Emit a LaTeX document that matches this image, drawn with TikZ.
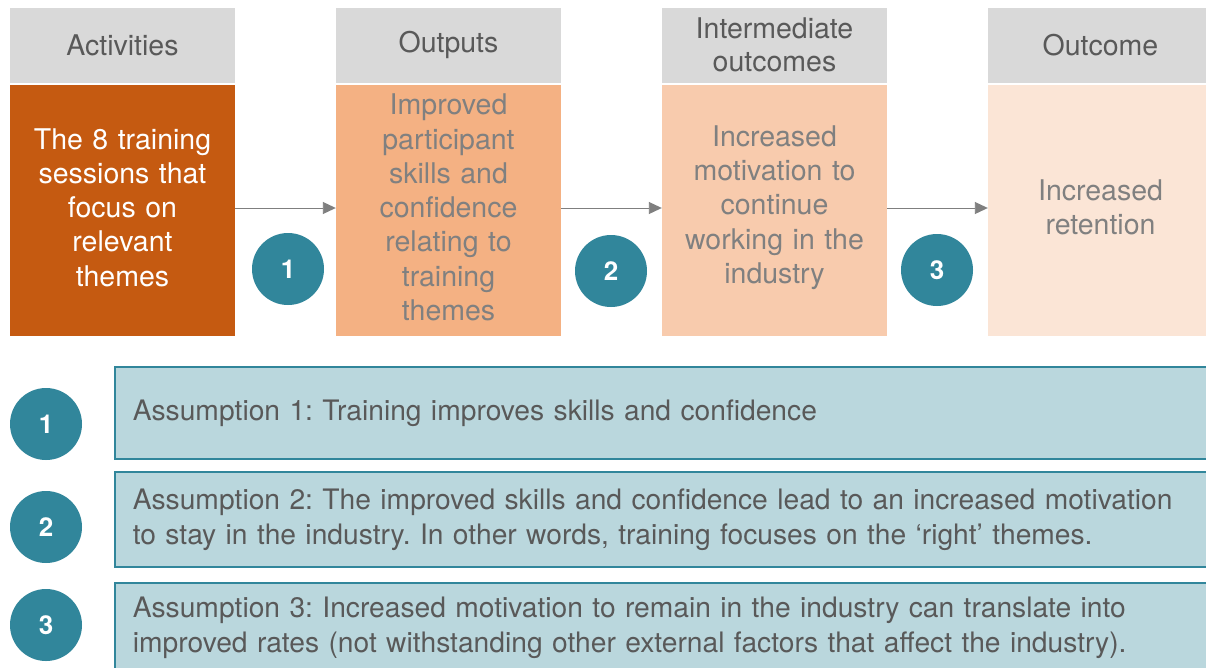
\documentclass[tikz,border=0pt]{standalone}
\usepackage{fontspec}
\setmainfont{TeX Gyre Heros}
\usetikzlibrary{arrows.meta,positioning}
\frenchspacing

\definecolor{hdrgray}{HTML}{D9D9D9}
\definecolor{txtgray}{HTML}{595959}
\definecolor{bodygray}{HTML}{808080}
\definecolor{actfill}{HTML}{C55A11}
\definecolor{outfill}{HTML}{F4B183}
\definecolor{intfill}{HTML}{F8CBAD}
\definecolor{ocfill}{HTML}{FBE5D6}
\definecolor{teal}{HTML}{31869B}
\definecolor{assfill}{HTML}{BAD7DD}
\definecolor{arrgray}{HTML}{7F7F7F}

\tikzset{
  hdr/.style={fill=hdrgray, text=txtgray, minimum width=225pt, minimum height=75pt,
    inner sep=0pt, align=center, font=\fontsize{28.5}{33}\selectfont},
  body/.style={minimum width=225pt, minimum height=251pt, inner sep=0pt,
    text width=225pt, align=center, text=bodygray, font=\fontsize{28.5}{34.3}\selectfont},
  badge/.style={circle, fill=teal, text=white, minimum size=72pt, inner sep=0pt,
    font=\fontsize{26}{28}\selectfont\bfseries},
  assbox/.style={draw=teal, line width=1.6pt, fill=assfill, text=txtgray,
    minimum width=1101pt, inner xsep=18pt, inner ysep=0pt, anchor=north west,
    text width=1065pt, align=left, font=\fontsize{28.2}{35}\selectfont},
  arr/.style={draw=arrgray, line width=0.9pt, -{Triangle[length=13pt,width=12pt]}}
}

\begin{document}
\begin{tikzpicture}[x=1pt,y=-1pt]
  \clip (0,0) rectangle (1206,667);
  \fill[white] (0,0) rectangle (1206,667);

  % column headers
  \node[hdr] (h1) at (122.5,45) {Activities};
  \node[hdr] (h2) at (448.5,45) {Outputs};
  \node[hdr] (h3) at (774.5,45) {Intermediate\\outcomes};
  \node[hdr] (h4) at (1100.5,45) {Outcome};

  % column bodies
  \node[body, fill=actfill, text=white] (act) at (122.5,210.5)
    {The 8 training\\sessions that\\focus on\\relevant\\themes\par\vspace{6pt}};
  \node[body, fill=outfill] (out) at (448.5,210.5)
    {Improved\\participant\\skills and\\confidence\\relating to\\training\\themes\par\vspace{6pt}};
  \node[body, fill=intfill] (int) at (774.5,210.5)
    {Increased\\motivation to\\continue\\working in the\\industry\par\vspace{6pt}};
  \node[body, fill=ocfill] (oc) at (1100.5,210.5)
    {Increased\\retention\par\vspace{6pt}};

  % causal links
  \draw[arr] ([yshift=2.5pt]act.east) -- ([yshift=2.5pt]out.west);
  \draw[arr] ([yshift=2.5pt]out.east) -- ([yshift=2.5pt]int.west);
  \draw[arr] ([yshift=2.5pt]int.east) -- ([yshift=2.5pt]oc.west);

  % numbered badges between the columns
  \node[badge] (c1) at (288,269) {1};
  \node[badge] (c2) at (611,271) {2};
  \node[badge] (c3) at (937,270) {3};

  % assumptions
  \node[badge] (a1) at (46,424) {1};
  \node[badge] (a2) at (46,527) {2};
  \node[badge] (a3) at (46,625) {3};

  \node[assbox, minimum height=92pt] (b1) at (114,366)
    {Assumption 1: Training improves skills and confidence};
  \node[assbox, minimum height=95pt] (b2) at (114,471)
    {Assumption 2: The improved skills and confidence lead to an increased motivation\\
     to stay in the industry. In other words, training focuses on the \textquoteleft right\textquoteright{} themes.};
  \node[assbox, minimum height=90pt] (b3) at (114,582)
    {Assumption 3: Increased motivation to remain in the industry can translate into\\
     improved rates (not withstanding other external factors that affect the industry).};
\end{tikzpicture}
\end{document}
